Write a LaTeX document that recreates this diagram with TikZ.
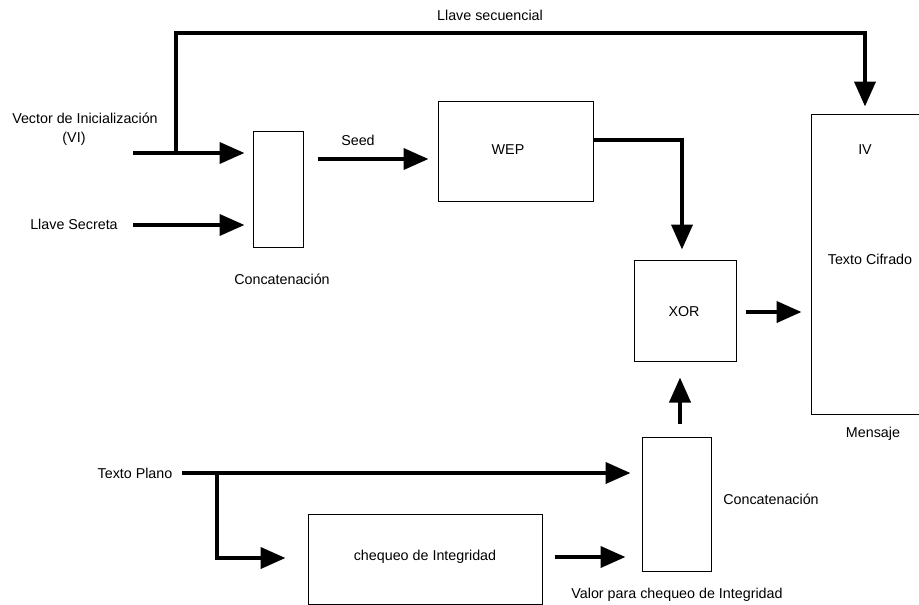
\documentclass[tikz,border=0pt]{standalone}
\usepackage{fontspec}
\setmainfont{Liberation Sans}
\usetikzlibrary{arrows.meta}
\begin{document}
\begin{tikzpicture}[x=1pt,y=-1pt,
  box/.style={draw,line width=1pt,inner sep=0pt,minimum width=#1},
  lbl/.style={font=\fontsize{14.3}{16}\selectfont,inner sep=0pt},
  arr/.style={line width=4pt,-{Triangle[length=25pt,width=21pt]}},
  ln/.style={line width=4pt}]
\useasboundingbox (0,0) rectangle (919,605);
\clip (0,0) rectangle (919,605);
\fill[white] (0,0) rectangle (919,605);
% boxes
\node[box=50pt,minimum height=116pt] (c1) at (278,189) {};
\node[box=155pt,minimum height=100pt] (wep) at (515.5,151) {};
\node[box=102pt,minimum height=101pt] (xor) at (685,310.5) {};
\node[box=130pt,minimum height=300pt] (msg) at (876,264) {};
\node[box=69pt,minimum height=134pt] (c2) at (676.5,504) {};
\node[box=234pt,minimum height=90pt] (chk) at (425,559) {};
% texts
\node[lbl] (tvi) at (85,118) {Vector de Inicialización};
\node[lbl] (tvi2) at (74,139) {(VI)};
\node[lbl] (tls) at (74,224) {Llave Secreta};
\node[lbl] (tc1) at (282,279) {Concatenación};
\node[lbl] (tseed) at (358,140) {Seed};
\node[lbl] (twep) at (508,150) {WEP};
\node[lbl] (tsec) at (490,15) {Llave secuencial};
\node[lbl] (txor) at (684,312) {XOR};
\node[lbl] (tiv) at (865,150) {IV};
\node[lbl] (tcif) at (870,259) {Texto Cifrado};
\node[lbl] (tmen) at (873,434) {Mensaje};
\node[lbl] (tc2) at (771,499) {Concatenación};
\node[lbl] (ttp) at (135,473) {Texto Plano};
\node[lbl] (tchk) at (425,557) {chequeo de Integridad};
\node[lbl] (tval) at (677,595) {Valor para chequeo de Integridad};
% coordinates
\coordinate (vi) at (133,153);
\coordinate (ls) at (133,225);
\coordinate (br) at (176,153);
\coordinate (top) at (865,33);
\coordinate (tp) at (182,473);
\coordinate (br2) at (217,473);
% connectors
\draw[arr,shorten >=8pt] (vi) -- (c1.west |- vi);
\draw[arr,shorten >=8pt] (ls) -- (c1.west |- ls);
\draw[arr,shorten >=7pt] (br) |- (top) -- (top |- msg.north);
\draw[arr,shorten <=14pt,shorten >=9pt] (c1.east |- 0,159) -- (wep.west |- 0,159);
\draw[arr,shorten >=10pt] (wep.east |- 0,140) -| (682,0 |- xor.north);
\draw[arr,shorten <=9pt,shorten >=9pt] (xor.east |- 0,312) -- (msg.west |- 0,312);
\draw[arr,shorten <=13pt,shorten >=16pt] (680,0 |- c2.north) -- (680,0 |- xor.south);
\draw[arr,shorten >=11pt] (tp) -- (c2.west |- tp);
\draw[arr,shorten >=22pt] (br2) |- (chk.west |- 0,558);
\draw[arr,shorten <=12pt,shorten >=16pt] (chk.east |- 0,557) -- (c2.west |- 0,557);
\end{tikzpicture}
\end{document}
